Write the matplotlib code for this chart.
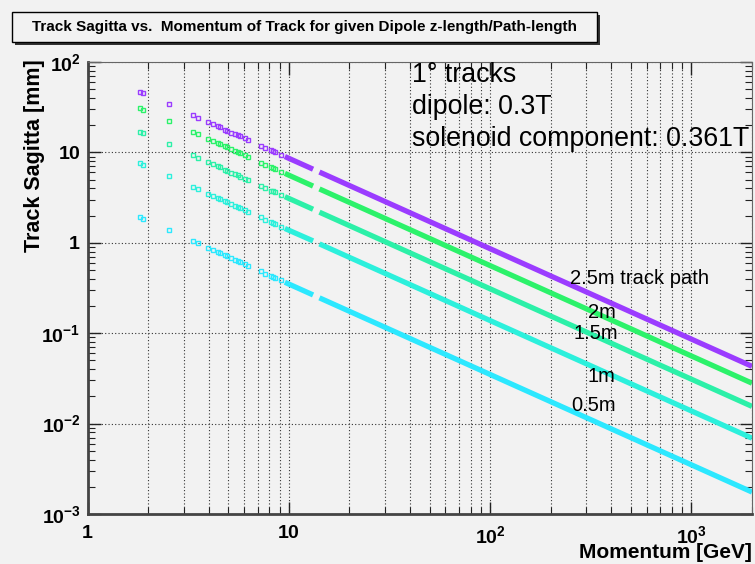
import numpy as np
import matplotlib.pyplot as plt
from matplotlib.patches import Rectangle
from matplotlib.ticker import LogLocator, FixedLocator, FuncFormatter, NullFormatter

plt.rcParams['font.family'] = ['Liberation Sans', 'DejaVu Sans']
plt.rcParams['mathtext.fontset'] = 'custom'
plt.rcParams['mathtext.rm'] = 'Liberation Sans'
plt.rcParams['mathtext.bf'] = 'Liberation Sans:bold'

# Track momenta [GeV] of the isolated markers at low momentum
momentum = [1.83, 1.89, 2.53, 3.35, 3.54, 3.95, 4.20, 4.43, 4.53, 4.80, 4.93, 5.18,
            5.42, 5.57, 5.74, 6.03, 6.25, 7.24, 7.66, 8.20, 8.35, 8.52, 9.13]

# Sagitta [mm] at those momenta, one list per path length
sag_25 = [47.0, 45.5, 34.0, 25.7, 24.3, 21.8, 20.5, 19.4, 19.0, 17.9, 17.4, 16.6,
          15.9, 15.4, 15.0, 14.3, 13.8, 11.9, 11.2, 10.5, 10.3, 10.1, 9.42]
sag_20 = [30.6, 29.6, 22.1, 16.7, 15.8, 14.2, 13.3, 12.6, 12.4, 11.7, 11.4, 10.8,
          10.3, 10.1, 9.76, 9.29, 8.96, 7.73, 7.31, 6.83, 6.71, 6.57, 6.13]
sag_15 = [16.9, 16.4, 12.3, 9.25, 8.76, 7.85, 7.38, 7.00, 6.84, 6.46, 6.29, 5.98,
          5.72, 5.57, 5.40, 5.14, 4.96, 4.28, 4.05, 3.78, 3.71, 3.64, 3.40]
sag_10 = [7.54, 7.30, 5.45, 4.12, 3.90, 3.49, 3.29, 3.12, 3.05, 2.88, 2.80, 2.66,
          2.55, 2.48, 2.40, 2.29, 2.21, 1.91, 1.80, 1.68, 1.65, 1.62, 1.51]
sag_05 = [1.91, 1.85, 1.38, 1.04, 0.989, 0.886, 0.833, 0.790, 0.773, 0.729, 0.710, 0.676,
          0.646, 0.628, 0.610, 0.580, 0.560, 0.483, 0.457, 0.427, 0.419, 0.411, 0.383]

# Densely sampled stretches: start/end momentum and sagitta at both ends
dense_p = [[9.56, 13.2], [14.2, 2000]]
dense_25 = [[9.00, 6.52], [6.06, 0.043]]
dense_20 = [[5.86, 4.24], [3.94, 0.028]]
dense_15 = [[3.24, 2.35], [2.18, 0.0155]]
dense_10 = [[1.44, 1.05], [0.972, 0.0069]]
dense_05 = [[0.366, 0.265], [0.246, 0.00175]]

tracks = [
    ('2.5m track path', sag_25, dense_25, '#9b3cff'),
    ('2m', sag_20, dense_20, '#2cf26a'),
    ('1.5m', sag_15, dense_15, '#2cf0a8'),
    ('1m', sag_10, dense_10, '#2cf0dc'),
    ('0.5m', sag_05, dense_05, '#2ce8ff'),
]

bg = '#f2f2f2'
fig = plt.figure(figsize=(7.55, 5.64), dpi=100, facecolor=bg)
ax = fig.add_axes([87.5 / 755, 50 / 564, 664.5 / 755, 452 / 564], facecolor=bg)

for name, sag, dense, col in tracks:
    ax.plot(momentum, sag, ls='none', marker='s', ms=3.0, mfc='none', mec=col, mew=1.0)
    for pp, ss in zip(dense_p, dense):
        ax.plot(pp, ss, color=col, lw=3.8, solid_capstyle='butt')

ax.set_xscale('log')
ax.set_yscale('log')
ax.set_xlim(1, 2000)
ax.set_ylim(1e-3, 1e2)

def pow_label(v, pos):
    e = int(round(np.log10(v)))
    if e == 0:
        return r'$\mathbf{1}$'
    if e == 1:
        return r'$\mathbf{10}$'
    return r'$\mathbf{10^{%d}}$' % e

ax.xaxis.set_major_locator(FixedLocator([1, 10, 100, 1000]))
ax.xaxis.set_minor_locator(LogLocator(base=10, subs=np.arange(2, 10), numticks=20))
ax.yaxis.set_major_locator(FixedLocator([1e-3, 1e-2, 1e-1, 1, 10, 100]))
ax.yaxis.set_minor_locator(LogLocator(base=10, subs=np.arange(2, 10), numticks=20))
ax.xaxis.set_major_formatter(FuncFormatter(pow_label))
ax.yaxis.set_major_formatter(FuncFormatter(pow_label))
ax.xaxis.set_minor_formatter(NullFormatter())
ax.yaxis.set_minor_formatter(NullFormatter())

ax.tick_params(which='both', direction='in', top=True, right=True, colors='#222222',
               labelsize=14, labelcolor='black')
ax.tick_params(which='major', length=9, width=1.0)
ax.tick_params(which='minor', length=5, width=0.8)
ax.tick_params(axis='x', pad=8)
ax.tick_params(axis='y', pad=5)

ax.grid(True, which='major', axis='both', ls=(0, (1, 2)), lw=0.8, color='#333333')
ax.grid(True, which='minor', axis='x', ls=(0, (1, 2)), lw=0.8, color='#333333')

for side in ['left', 'bottom']:
    ax.spines[side].set_linewidth(2.0)
    ax.spines[side].set_color('#444444')
for side in ['top', 'right']:
    ax.spines[side].set_linewidth(0.8)
    ax.spines[side].set_color('#666666')

# curve labels
label_pos = [(0.726, 0.522), (0.753, 0.445), (0.731, 0.400), (0.752, 0.305), (0.728, 0.241)]
for (name, _, _, _), (lx, ly) in zip(tracks, label_pos):
    ax.text(lx, ly, name, transform=ax.transAxes, fontsize=14.5, ha='left', va='center')

info = ['1\u00b0 tracks', 'dipole: 0.3T', 'solenoid component: 0.361T']
for i, line in enumerate(info):
    ax.text(0.488, 0.971 - i * 0.071, line, transform=ax.transAxes, fontsize=19.3,
            ha='left', va='center')

# axis titles, ROOT style
fig.text(35 / 755, 1 - 59 / 564, 'Track Sagitta [mm]', rotation=90, ha='center', va='top',
         fontsize=15.5, fontweight='bold')
fig.text(752 / 755, 1 - 552 / 564, 'Momentum [GeV]', ha='right', va='center',
         fontsize=15, fontweight='bold')

# title box with shadow
bx, by, bw, bh = 12 / 755, 1 - 42 / 564, 585 / 755, 30 / 564
fig.patches.append(Rectangle((bx + 3 / 755, by - 3 / 564), bw, bh, transform=fig.transFigure,
                             facecolor='#333333', edgecolor='none', zorder=1))
fig.patches.append(Rectangle((bx, by), bw, bh, transform=fig.transFigure,
                             facecolor=bg, edgecolor='black', lw=1.0, zorder=2))
fig.text(bx + bw / 2, by + bh / 2, 'Track Sagitta vs.  Momentum of Track for given Dipole z-length/Path-length',
         ha='center', va='center', fontsize=11, fontweight='bold', zorder=3)

fig.savefig('out.png', dpi=100, facecolor=bg)
